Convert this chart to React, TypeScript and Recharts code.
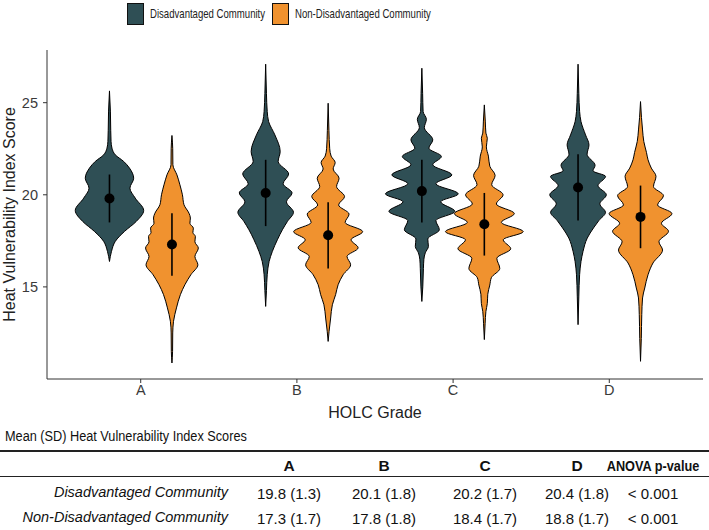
import { ComposedChart, Area, Scatter, ErrorBar, XAxis, YAxis } from "recharts"

const grades = ["A", "B", "C", "D"]
const gradeTicks = [1, 2, 3, 4]
const scoreTicks = [15, 20, 25]
const groups = ["Disadvantaged Community", "Non-Disadvantaged Community"]
const groupColors = ["#2f4f55", "#f0922f"]

// violin outlines: [score, half width in grade units]
const violinDisA = [[25.64, 0], [24.5, 0.006], [23.5, 0.008], [22.9, 0.01], [22.53, 0.016], [22.17, 0.037], [21.81, 0.091], [21.45, 0.128], [20.9, 0.155], [20.36, 0.131], [19.82, 0.165], [19.15, 0.219], [18.55, 0.171], [18.01, 0.096], [17.47, 0.037], [16.93, 0.013], [16.38, 0]]
const violinNonA = [[23.22, 0], [22.5, 0.005], [21.63, 0.006], [21.08, 0.032], [20.54, 0.051], [20.0, 0.067], [19.46, 0.077], [19.0, 0.109], [18.74, 0.118], [18.45, 0.115], [18.19, 0.137], [17.95, 0.134], [17.74, 0.15], [17.45, 0.147], [17.11, 0.169], [16.65, 0.147], [16.2, 0.166], [15.66, 0.121], [15.12, 0.083], [14.58, 0.054], [13.86, 0.029], [13.13, 0.01], [12.5, 0.005], [11.5, 0.004], [10.87, 0]]
const violinDisB = [[27.09, 0], [25.5, 0.005], [24.52, 0.01], [23.97, 0.019], [23.25, 0.059], [22.35, 0.093], [21.81, 0.08], [21.13, 0.147], [20.6, 0.112], [20.1, 0.169], [19.62, 0.133], [19.05, 0.178], [18.55, 0.139], [18.1, 0.107], [17.56, 0.075], [16.93, 0.043], [16.38, 0.022], [15.66, 0.01], [14.8, 0.005], [13.94, 0]]
const violinNonB = [[24.97, 0], [23.5, 0.005], [22.5, 0.01], [22.1, 0.019], [21.75, 0.045], [21.4, 0.032], [20.9, 0.07], [20.45, 0.054], [19.9, 0.105], [19.45, 0.067], [18.95, 0.134], [18.5, 0.109], [18.0, 0.221], [17.56, 0.147], [17.12, 0.192], [16.65, 0.121], [16.2, 0.144], [15.66, 0.096], [15.12, 0.064], [14.58, 0.048], [14.03, 0.027], [13.31, 0.016], [12.59, 0.006], [12.04, 0]]
const violinDisC = [[26.87, 0], [25.5, 0.005], [24.52, 0.008], [24.1, 0.029], [23.65, 0.016], [22.98, 0.07], [22.53, 0.045], [22.08, 0.125], [21.63, 0.07], [21.08, 0.192], [20.6, 0.09], [20.05, 0.233], [19.62, 0.121], [19.1, 0.211], [18.6, 0.09], [18.1, 0.112], [17.6, 0.038], [17.2, 0.042], [16.85, 0.022], [16.5, 0.013], [16.0, 0.01], [15.0, 0.006], [14.21, 0]]
const violinNonC = [[24.88, 0], [24.0, 0.006], [23.35, 0.01], [23.07, 0.019], [22.6, 0.013], [22.1, 0.026], [21.55, 0.035], [21.05, 0.069], [20.55, 0.047], [20.0, 0.12], [19.5, 0.077], [18.98, 0.192], [18.5, 0.109], [18.0, 0.249], [17.56, 0.121], [17.07, 0.169], [16.55, 0.08], [16.0, 0.099], [15.5, 0.045], [15.1, 0.035], [14.6, 0.022], [14.1, 0.019], [13.67, 0.01], [13.0, 0.005], [12.14, 0]]
const violinDisD = [[27.09, 0], [25.5, 0.005], [24.52, 0.01], [23.97, 0.019], [23.25, 0.048], [22.71, 0.07], [22.2, 0.058], [21.6, 0.109], [21.3, 0.096], [21.0, 0.176], [20.5, 0.128], [20.0, 0.181], [19.5, 0.139], [19.05, 0.176], [18.6, 0.133], [18.2, 0.099], [17.65, 0.059], [16.93, 0.032], [16.38, 0.019], [15.66, 0.01], [14.5, 0.005], [12.95, 0]]
const violinNonD = [[25.06, 0], [24.2, 0.006], [23.52, 0.013], [22.89, 0.021], [22.3, 0.038], [21.9, 0.048], [21.45, 0.069], [21.0, 0.099], [20.45, 0.083], [19.95, 0.147], [19.45, 0.109], [18.98, 0.201], [18.45, 0.134], [18.02, 0.179], [17.45, 0.118], [17.0, 0.141], [16.3, 0.08], [15.66, 0.048], [14.94, 0.027], [14.4, 0.013], [13.5, 0.008], [12.2, 0.005], [10.96, 0]]

const violinsDis = [violinDisA, violinDisB, violinDisC, violinDisD]
const violinsNon = [violinNonA, violinNonB, violinNonC, violinNonD]

const meanDis = [19.8, 20.1, 20.2, 20.4]
const sdDis = [1.3, 1.8, 1.7, 1.8]
const meanNon = [17.3, 17.8, 18.4, 18.8]
const sdNon = [1.7, 1.8, 1.7, 1.7]
const anovaP = ["< 0.001", "< 0.001"]

const dodge = 0.2

const toArea = (profile: number[][], center: number) =>
  profile.map(([score, half]) => ({ score, range: [center - half, center + half] }))

const toPoints = (means: number[], sds: number[], shift: number) =>
  means.map((m, i) => ({ pos: gradeTicks[i] + shift, score: m, sd: sds[i] }))

const sans = "'Liberation Sans', Arial, sans-serif"

function Dot(props: any) {
  return <circle cx={props.cx} cy={props.cy} r={5} fill="#000" />
}

// arial-narrow look: squeeze liberation sans horizontally
const squeeze = (origin: string, s = 0.82) => ({ transform: `scaleX(${s})`, transformOrigin: origin })

function LegendRow() {
  const boxes = [127, 272]
  return (
    <div style={{ position: "absolute", left: 0, top: 0, fontFamily: sans, fontSize: 13.5, color: "#222" }}>
      {groups.map((g, i) => (
        <div key={g}>
          <div style={{ position: "absolute", left: boxes[i], top: 3, width: 17, height: 22, boxSizing: "border-box", border: "1px solid #111", background: groupColors[i] }} />
          <div style={{ position: "absolute", left: boxes[i] + 23, top: 6, whiteSpace: "nowrap", ...squeeze("left", 0.71) }}>{g}</div>
        </div>
      ))}
    </div>
  )
}

const colCenters = [289, 384, 485, 577, 653]

function StatsTable() {
  const cell = (text: string, x: number, y: number, extra: any = {}) => (
    <div style={{ position: "absolute", left: x, top: y, transform: "translate(-50%, -50%)", whiteSpace: "nowrap", ...extra }}>{text}</div>
  )
  const rows = [
    { label: groups[0], values: meanDis.map((m, i) => `${m.toFixed(1)} (${sdDis[i].toFixed(1)})`), p: anovaP[0], y: 493 },
    { label: groups[1], values: meanNon.map((m, i) => `${m.toFixed(1)} (${sdNon[i].toFixed(1)})`), p: anovaP[1], y: 518 },
  ]
  return (
    <div style={{ position: "absolute", left: 0, top: 0, width: 709, height: 530, fontFamily: sans, fontSize: 15, color: "#111" }}>
      <div style={{ position: "absolute", left: 5, top: 427, fontSize: 15.5, whiteSpace: "nowrap", ...squeeze("left") }}>
        Mean (SD) Heat Vulnerability Index Scores
      </div>
      <div style={{ position: "absolute", left: 0, top: 450, width: 709, height: 1.5, background: "#222" }} />
      {grades.map((g, i) => cell(g, colCenters[i], 466, { fontWeight: "bold", fontSize: 15.5 }))}
      {cell("ANOVA p-value", colCenters[4], 466, { fontWeight: "bold", fontSize: 15.5, transform: "translate(-50%, -50%) scaleX(0.82)" })}
      <div style={{ position: "absolute", left: 0, top: 476, width: 709, height: 1, background: "#222" }} />
      {rows.map((r) => (
        <div key={r.label}>
          <div style={{ position: "absolute", right: 709 - 228, top: r.y - 9, fontStyle: "italic", fontSize: 14.5, whiteSpace: "nowrap" }}>{r.label}</div>
          {r.values.map((v, i) => cell(v, colCenters[i], r.y))}
          {cell(r.p, colCenters[4], r.y)}
        </div>
      ))}
    </div>
  )
}

export default function App() {
  return (
    <div style={{ position: "absolute", left: 0, top: 0, width: 709, height: 530, background: "#fff", fontFamily: sans }}>
      <LegendRow />
      <div style={{ position: "absolute", left: 0, top: 0 }}>
        <ComposedChart width={709} height={425} layout="vertical" margin={{ top: 50, right: 6, bottom: 1, left: 7 }}>
          <XAxis
            type="number"
            dataKey="pos"
            domain={[0.4, 4.6]}
            ticks={gradeTicks}
            tickFormatter={(v) => grades[v - 1]}
            allowDataOverflow
            height={45}
            stroke="#333"
            tickSize={4}
            tickMargin={2}
            tick={{ fontSize: 14.5, fill: "#3a3a3a", fontFamily: sans }}
            label={{ value: "HOLC Grade", position: "insideBottom", offset: 6, fontSize: 16, fill: "#222", fontFamily: sans }}
          />
          <YAxis
            type="number"
            dataKey="score"
            domain={[10, 27.86]}
            ticks={scoreTicks}
            reversed
            allowDataOverflow
            width={40}
            stroke="#333"
            tickSize={4}
            tickMargin={5}
            tick={{ fontSize: 14.5, fill: "#3a3a3a", fontFamily: sans }}
            label={{ value: "Heat Vulnerability Index Score", angle: -90, position: "insideLeft", offset: 2, fontSize: 16, fill: "#222", fontFamily: sans, style: { textAnchor: "middle" } }}
          />
          {violinsDis.map((v, i) => (
            <Area
              key={`dis-${i}`}
              data={toArea(v, gradeTicks[i] - dodge)}
              dataKey="range"
              type="monotone"
              fill={groupColors[0]}
              fillOpacity={1}
              stroke="#000"
              strokeWidth={1}
              dot={false}
              activeDot={false}
              isAnimationActive={false}
              name={groups[0]}
            />
          ))}
          {violinsNon.map((v, i) => (
            <Area
              key={`non-${i}`}
              data={toArea(v, gradeTicks[i] + dodge)}
              dataKey="range"
              type="monotone"
              fill={groupColors[1]}
              fillOpacity={1}
              stroke="#000"
              strokeWidth={1}
              dot={false}
              activeDot={false}
              isAnimationActive={false}
              name={groups[1]}
            />
          ))}
          <Scatter data={toPoints(meanDis, sdDis, -dodge)} dataKey="score" shape={Dot} isAnimationActive={false} legendType="none">
            <ErrorBar dataKey="sd" direction="y" width={0} stroke="#000" strokeWidth={1.6} isAnimationActive={false} />
          </Scatter>
          <Scatter data={toPoints(meanNon, sdNon, dodge)} dataKey="score" shape={Dot} isAnimationActive={false} legendType="none">
            <ErrorBar dataKey="sd" direction="y" width={0} stroke="#000" strokeWidth={1.6} isAnimationActive={false} />
          </Scatter>
        </ComposedChart>
      </div>
      <StatsTable />
    </div>
  )
}
